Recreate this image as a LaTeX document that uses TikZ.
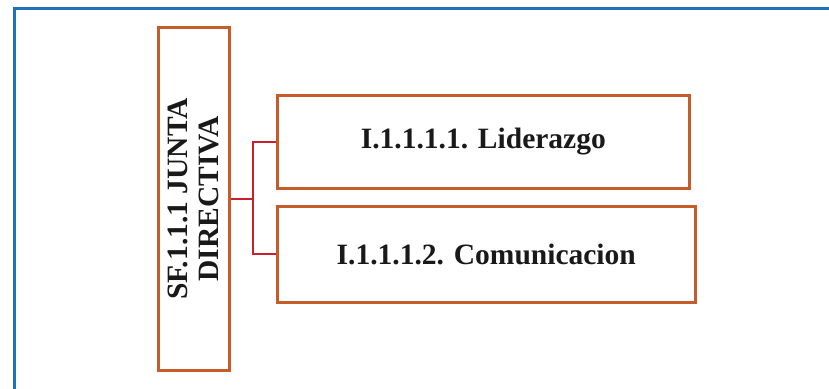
\documentclass[tikz,border=0pt]{standalone}
\usepackage{fontspec}
\setmainfont{Liberation Serif}
\definecolor{boxorange}{RGB}{197,92,42}
\definecolor{linkred}{RGB}{200,32,44}
\definecolor{frameblue}{RGB}{31,113,185}
\tikzset{
  orgbox/.style={draw=boxorange, line width=3pt, fill=white, inner sep=0pt},
  boxtext/.style={font=\fontsize{29.5}{31}\selectfont\bfseries, text=black!90, align=center, inner sep=0pt},
  link/.style={draw=linkred, line width=2pt},
  frame/.style={draw=frameblue, line width=3pt}
}
\begin{document}
\begin{tikzpicture}[x=1pt,y=1pt]
  \useasboundingbox (0,0) rectangle (829,388);
  % outer frame (top and left sides)
  \coordinate (fbl) at (14,-6);
  \coordinate (ftl) at (14,379);
  \coordinate (ftr) at (835,379);
  \draw[frame] (fbl) -- (ftl) -- (ftr);

  % sub-function box with vertical title
  \node[orgbox, minimum width=71pt, minimum height=343pt] (sf) at (193.5,189) {};
  \node[boxtext, rotate=90] (sftext) at (sf.center) {SF.1.1.1 JUNTA\\DIRECTIVA};

  % indicator boxes
  \node[orgbox, minimum width=411.5pt, minimum height=93pt] (b1) at (483.3,246) {};
  \node[boxtext] (b1text) at (b1.center) {I.1.1.1.1. Liderazgo};
  \node[orgbox, minimum width=417.7pt, minimum height=96pt] (b2) at (486.3,133.5) {};
  \node[boxtext] (b2text) at (b2.center) {I.1.1.1.2. Comunicacion};

  % connectors
  \coordinate (j) at (253.3,189);
  \draw[link] (sf.east) -- (j);
  \draw[link] (b1.west) -| (j) |- (b2.west);
\end{tikzpicture}
\end{document}
